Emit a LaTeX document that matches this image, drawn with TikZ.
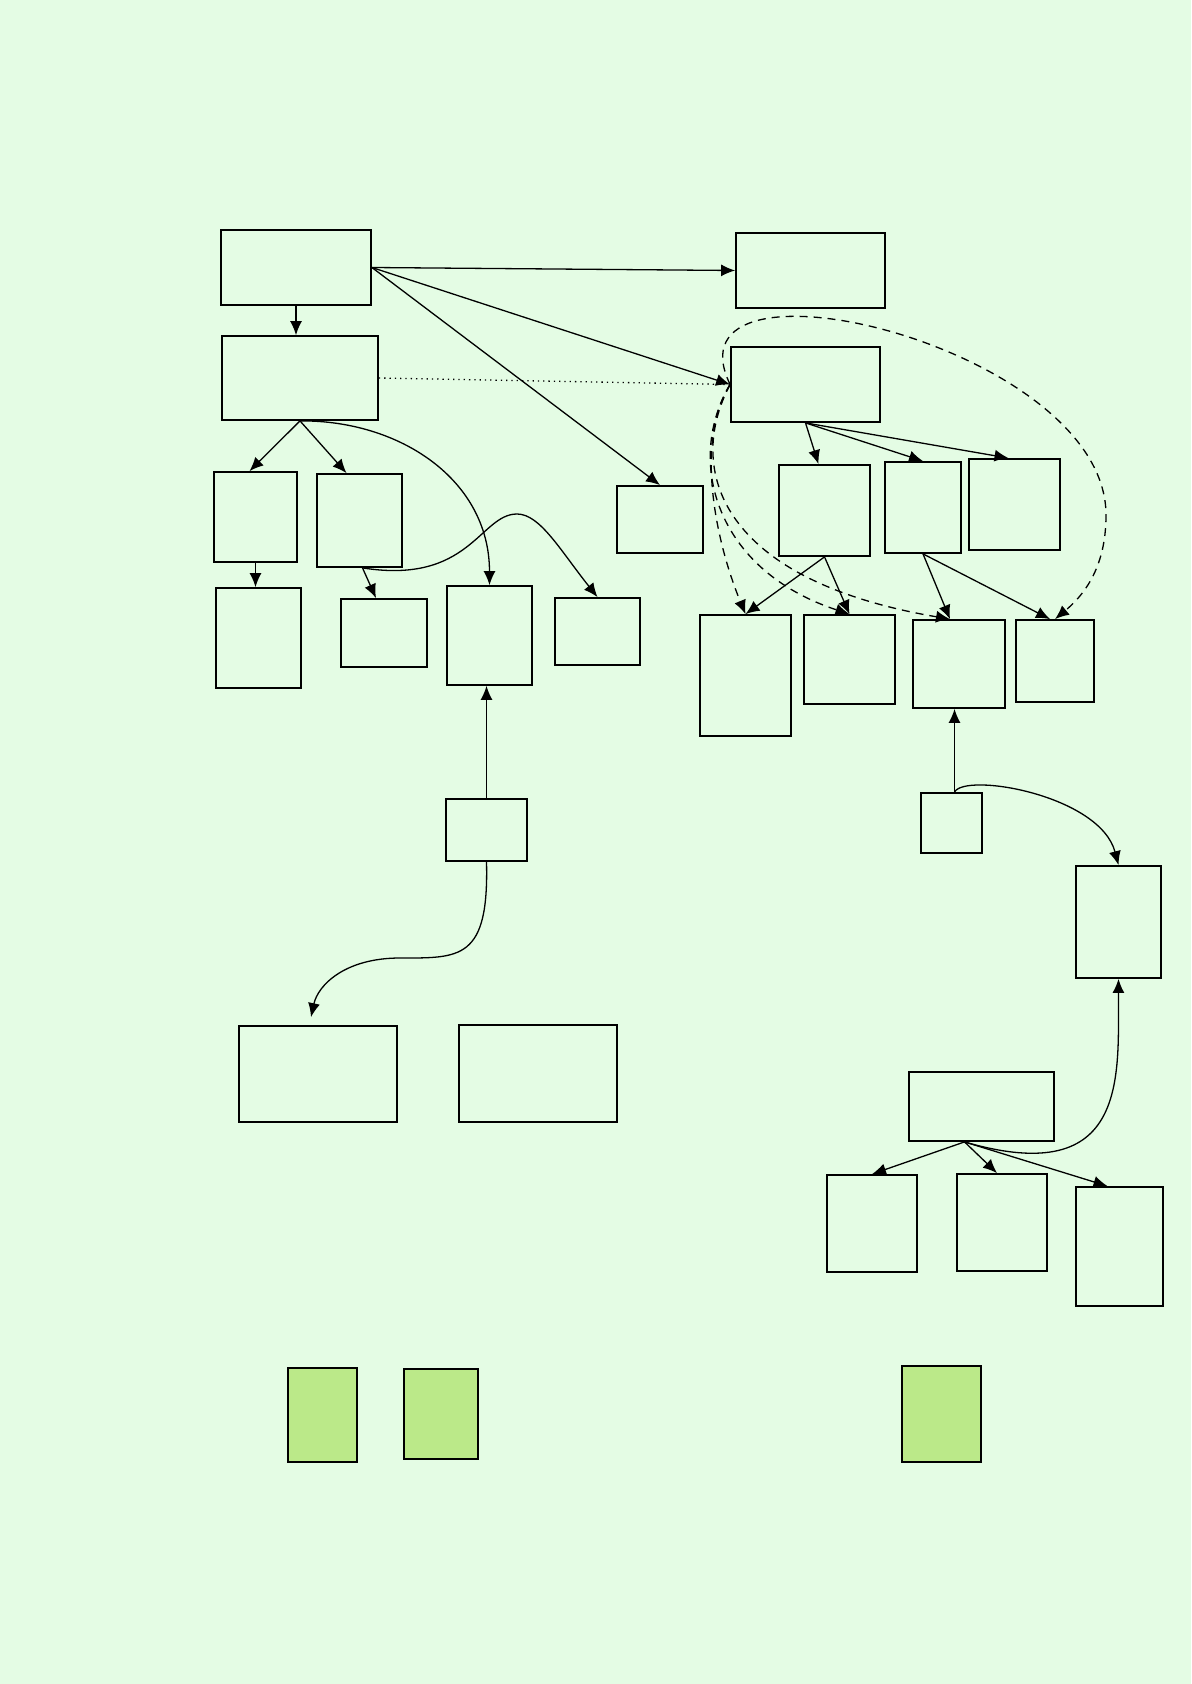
\documentclass[tikz,border=0pt]{standalone}
\usepackage{tikz}
\usetikzlibrary{arrows.meta, calc}
\definecolor{pagebg}{RGB}{228,252,228}
\definecolor{keygreen}{RGB}{187,233,137}

\begin{document}
\begin{tikzpicture}[x=0.5pt, y=-0.5pt,
    box/.style={draw, line width=0.9pt, inner sep=0pt},
    keybox/.style={box, fill=keygreen},
    link/.style={line width=0.65pt, -{Latex[length=7pt,width=6pt]}},
    dashlink/.style={link, dash pattern=on 4pt off 3pt},
    dotlink/.style={line width=0.65pt, dotted}]
    % page
    \fill[pagebg] (0,0) rectangle (1191,1684);

    % Left tree
    \node[box, minimum width=75pt, minimum height=37.5pt] (start) at (296,267.5) {};
    \node[box, minimum width=78pt, minimum height=42pt] (main) at (300,378) {};
    \node[box, minimum width=41.5pt, minimum height=45pt] (left1) at (255.5,517) {};
    \node[box, minimum width=42.5pt, minimum height=46.5pt] (left2) at (359.5,520.5) {};
    \node[box, minimum width=42.5pt, minimum height=50pt] (leaf1) at (258.5,638) {};
    \node[box, minimum width=43pt, minimum height=34pt] (leaf2) at (384,633) {};
    \node[box, minimum width=42.5pt, minimum height=49.5pt] (hub) at (489.5,635.5) {};
    \node[box, minimum width=42.5pt, minimum height=33.5pt] (side) at (597.5,631.5) {};
    \node[box, minimum width=43pt, minimum height=33.5pt] (solo) at (660,519.5) {};
    \coordinate (bump) at (517,514);

    % Right tree
    \node[box, minimum width=74.5pt, minimum height=37.5pt] (goal) at (810.5,270.5) {};
    \node[box, minimum width=74.5pt, minimum height=37.5pt] (core) at (805.5,384.5) {};
    \node[box, minimum width=45.5pt, minimum height=45.5pt] (core1) at (824.5,510.5) {};
    \node[box, minimum width=38pt, minimum height=45.5pt] (core2) at (923,507.5) {};
    \node[box, minimum width=45.5pt, minimum height=45.5pt] (core3) at (1014.5,504.5) {};
    \node[box, minimum width=45.5pt, minimum height=60.5pt] (out1) at (745.5,675.5) {};
    \node[box, minimum width=45.5pt, minimum height=44.5pt] (out2) at (849.5,659.5) {};
    \node[box, minimum width=46pt, minimum height=44pt] (out3) at (959,664) {};
    \node[box, minimum width=39pt, minimum height=41pt] (out4) at (1055,661) {};
    \coordinate (loop) at (1106,515);

    % Lower left
    \node[box, minimum width=40.5pt, minimum height=31pt] (src) at (486.5,830) {};
    \node[box, minimum width=79pt, minimum height=48pt] (res1) at (318,1074) {};
    \node[box, minimum width=79pt, minimum height=48.5pt] (res2) at (538,1073.5) {};
    \coordinate (bend) at (400,958);

    % Lower right
    \node[box, minimum width=30.5pt, minimum height=30pt] (feed) at (951.5,823) {};
    \node[box, minimum width=42.5pt, minimum height=56pt] (aux) at (1118.5,922) {};
    \node[box, minimum width=72.5pt, minimum height=34.5pt] (base) at (981.5,1106.5) {};
    \node[box, minimum width=45pt, minimum height=48.5pt] (base1) at (872,1223.5) {};
    \node[box, minimum width=45pt, minimum height=48.5pt] (base2) at (1002,1222.5) {};
    \node[box, minimum width=43.5pt, minimum height=59.5pt] (base3) at (1119.5,1246.5) {};
    \coordinate (fork) at ($(base.south)+(-17,0)$);

    % Green keys
    \node[keybox, minimum width=34.5pt, minimum height=47pt] (key1) at (322.5,1415) {};
    \node[keybox, minimum width=37pt, minimum height=45pt] (key2) at (441,1414) {};
    \node[keybox, minimum width=39.5pt, minimum height=48pt] (key3) at (941.5,1414) {};

    % Links of the left tree
    \draw[link] (start.east) -- (goal.west);
    \draw[link] (start.east) -- (core.west);
    \draw[link] (start.east) -- (solo.north);
    \draw[link] (start.south) -- (start.south |- main.north);
    \draw[dotlink] (main.east) -- (core.west);
    \draw[link] (main.south) -- ($(left1.north)+(-6,0)$);
    \draw[link] (main.south) -- ($(left2.north)+(-13,0)$);
    \draw[link] (main.south) .. controls (400,420) and (489.5,480) .. (hub.north);
    \draw[link] (left1.south) -- (left1.south |- leaf1.north);
    \draw[link] ($(left2.south)+(3,0)$) -- ($(leaf2.north)+(-8,0)$);
    \draw[link] ($(left2.south)+(3,0)$) .. controls (470,585) and (480,514) .. (bump)
        .. controls (540,514) and (560,550) .. (side.north);

    % Links of the right tree
    \draw[link] (core.south) -- ($(core1.north)+(-6,0)$);
    \draw[link] (core.south) -- (core2.north);
    \draw[link] (core.south) -- ($(core3.north)+(-6,0)$);
    \draw[link] (core1.south) -- (out1.north);
    \draw[link] (core1.south) -- (out2.north);
    \draw[link] (core2.south) -- ($(out3.north)+(-9,0)$);
    \draw[link] (core2.south) -- ($(out4.north)+(-5,0)$);
    \draw[dashlink] (core.west) .. controls (695,440) and (715,540) .. (out1.north);
    \draw[dashlink] (core.west) .. controls (685,460) and (715,570) .. (out2.north);
    \draw[dashlink] (core.west) .. controls (685,470) and (720,580) .. ($(out3.north)+(-9,0)$);
    \draw[dashlink] (core.west) .. controls (660,240) and (1106,345) .. (loop)
        .. controls (1106,560) and (1090,590) .. (out4.north);

    % Links below
    \draw[link] (src.north) -- (src.north |- hub.south);
    \draw[link] (src.south) .. controls (489,960) and (460,958) .. (bend)
        .. controls (345,958) and (318,985) .. ($(res1.north)+(-7,-8)$);
    \draw[link] ($(feed.north)+(3,0)$) -- ($(feed.north |- out3.south)+(3,0)$);
    \draw[link] ($(feed.north)+(3,0)$) .. controls (965,772) and (1100,795) .. (aux.north);
    \draw[link] (fork) .. controls (1130,1190) and (1118,1075) .. (aux.south);
    \draw[link] (fork) -- (base1.north);
    \draw[link] (fork) -- ($(base2.north)+(-5,0)$);
    \draw[link] (fork) -- ($(base3.north)+(-12,0)$);
\end{tikzpicture}
\end{document}
